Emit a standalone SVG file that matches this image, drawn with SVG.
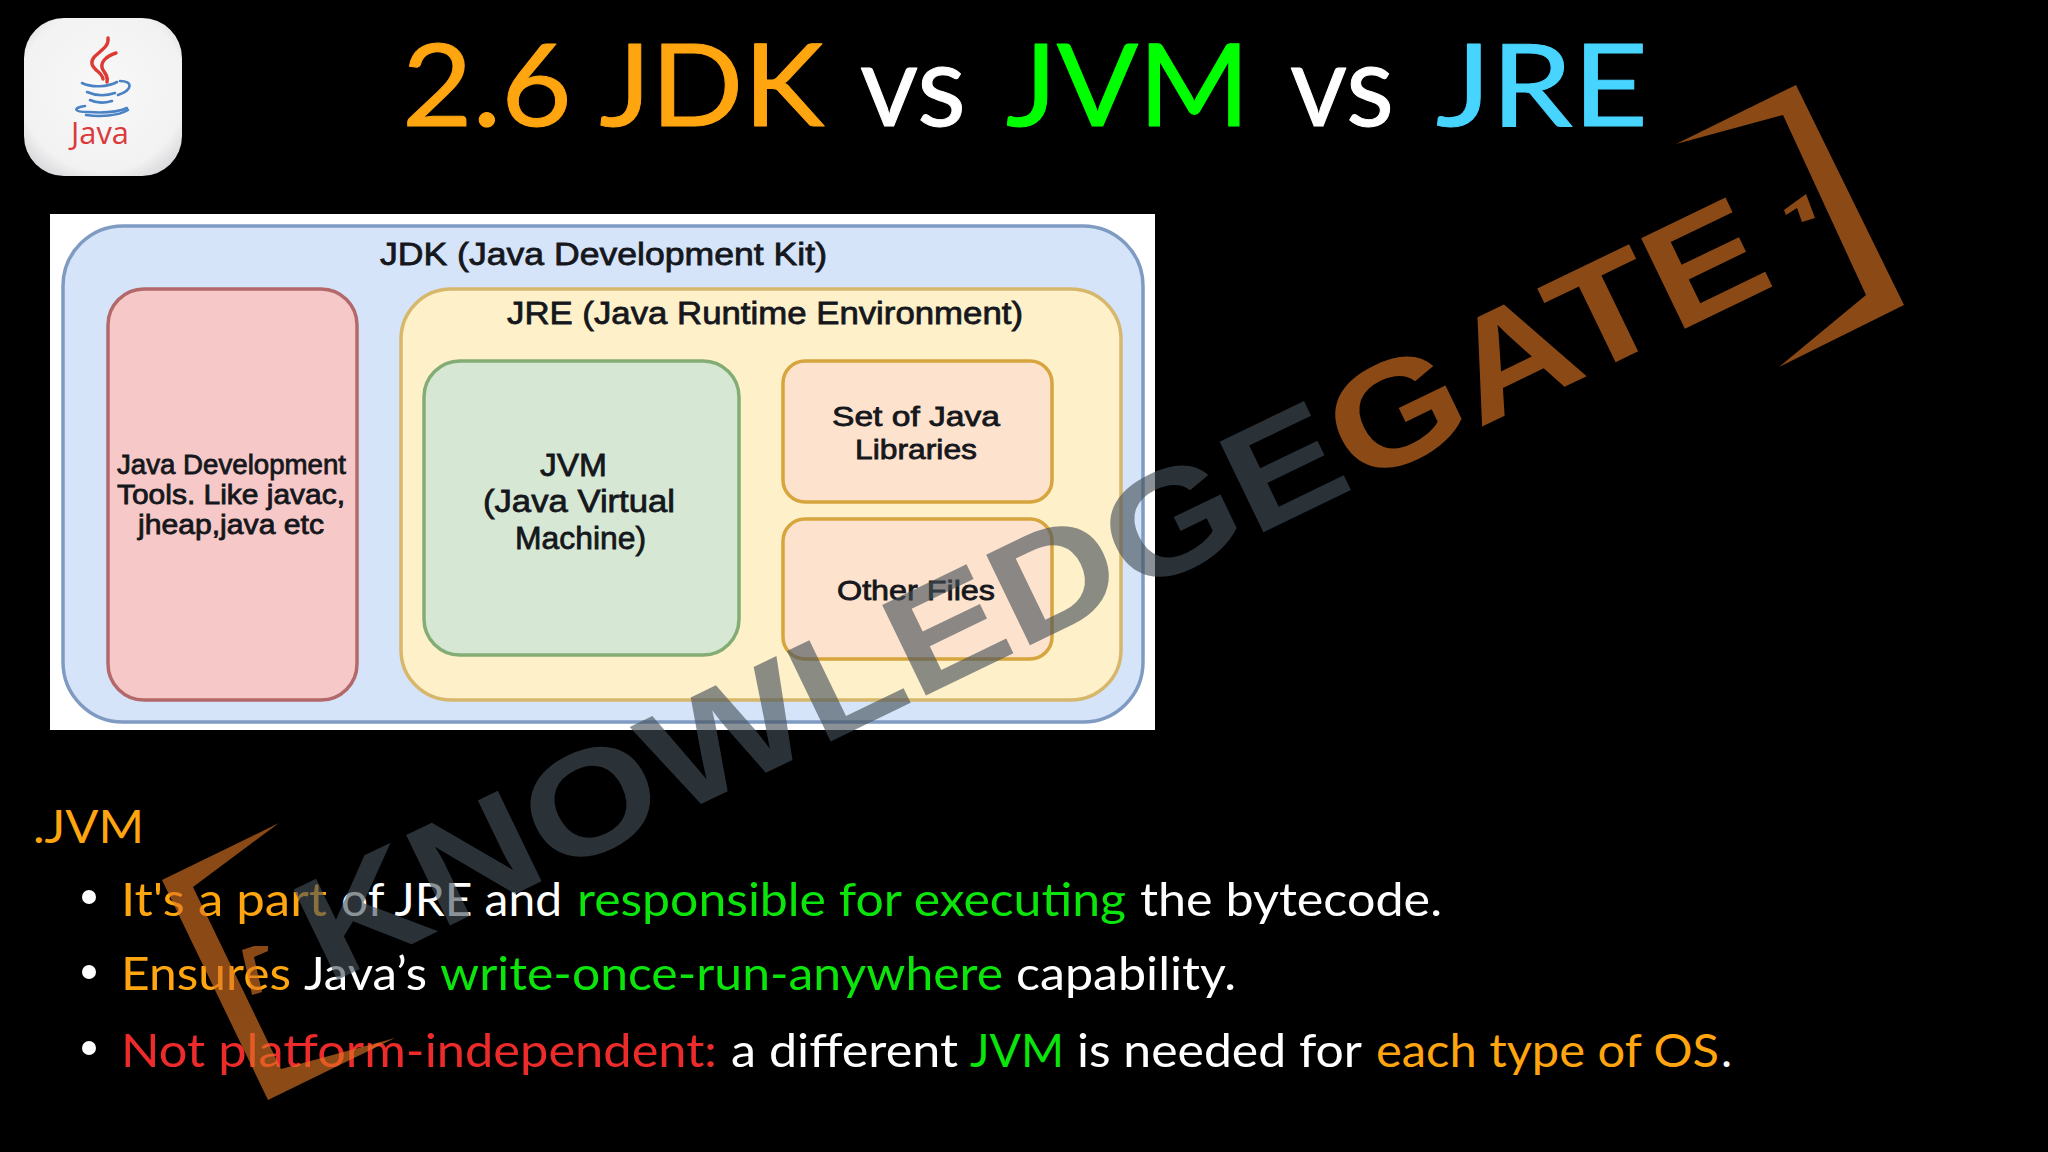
<svg xmlns="http://www.w3.org/2000/svg" width="2048" height="1152" viewBox="0 0 2048 1152">
<style>
.t{font-family:"Lato","Open Sans",sans-serif;font-size:114px;font-weight:400;stroke-linejoin:round;stroke-width:1}
.d{font-family:"Liberation Sans",Arial,sans-serif;fill:#15171c;stroke:#15171c;stroke-width:.8;font-size:28px}
.d2{font-size:32px}
.d3{font-size:27px}
.b{font-family:"Lato","Open Sans",sans-serif;font-size:47px}
.o{fill:#ffa50f}.g{fill:#0be50b}.w{fill:#fff}.r{fill:#ee2b2b}
.n{stroke-width:3.5;filter:url(#soft)}
.wm{font-family:"Liberation Sans",Arial,sans-serif;font-weight:700;font-size:146px}
.br{fill:#e07723}
</style>
<defs>
<radialGradient id="ic" cx=".5" cy=".45" r=".72"><stop offset="0" stop-color="#f8f8f9"/><stop offset=".72" stop-color="#f2f2f3"/><stop offset="1" stop-color="#c9c9cc"/></radialGradient>
<filter id="soft" x="-2%" y="-2%" width="104%" height="104%"><feGaussianBlur stdDeviation=".6"/></filter>
</defs>
<rect width="2048" height="1152" fill="#000"/>
<g id="java-logo">
<rect x="24" y="18" width="158" height="158" rx="40" fill="url(#ic)"/>
<g fill="none" stroke="#dc3a32" stroke-width="3.4" stroke-linecap="round">
<path d="M108 38C110 50 90 54 92 64C94 71 102 72 103 79"/>
<path d="M116 53C106 56 99 63 103 70C106 74 108 77 107 82"/>
</g>
<g fill="none" stroke="#4a82c4" stroke-width="2.6" stroke-linecap="round">
<path d="M82 83C92 88 108 87 117 82"/>
<path d="M87 92C96 96 106 96 115 93"/>
<path d="M90 100C96 103 105 103 112 101"/>
<path d="M120 81C133 81 133 90 118 95"/>
<path d="M85 106C72 108 74 112 88 112C102 113 118 112 127 108"/>
<path d="M86 115C100 117 118 116 128 110"/>
</g>
<text x="71" y="144" textLength="58" lengthAdjust="spacingAndGlyphs" font-family="Open Sans, sans-serif" font-size="31" fill="#dc3a3a">Java</text>
</g>
<g id="title">
<text class="t" x="402" y="126" textLength="422" lengthAdjust="spacingAndGlyphs" fill="#ffa50f" stroke="#ffa50f">2.6 JDK</text>
<text class="t" x="860" y="126" textLength="106" lengthAdjust="spacingAndGlyphs" fill="#fff" stroke="#fff">vs</text>
<text class="t" x="1006" y="126" textLength="244" lengthAdjust="spacingAndGlyphs" fill="#0f0" stroke="#0f0">JVM</text>
<text class="t" x="1290" y="126" textLength="104" lengthAdjust="spacingAndGlyphs" fill="#fff" stroke="#fff">vs</text>
<text class="t" x="1436" y="126" textLength="212" lengthAdjust="spacingAndGlyphs" fill="#47d4ff" stroke="#47d4ff">JRE</text>
</g>
<rect id="diagram-bg" x="50" y="214" width="1105" height="516" fill="#fff"/>
<g id="jdk">
<rect class="n" x="63" y="226" width="1080" height="496" rx="60" fill="#d5e4f9" stroke="#7f9bc2"/>
<text class="d d2" x="380" y="265" textLength="447" lengthAdjust="spacingAndGlyphs">JDK (Java Development Kit)</text>
</g>
<g id="dev-tools">
<rect class="n" x="108" y="289" width="249" height="411" rx="36" fill="#f6c9c8" stroke="#b3696b"/>
<text class="d d3" x="117" y="474" textLength="229" lengthAdjust="spacingAndGlyphs">Java Development</text>
<text class="d d3" x="117" y="504" textLength="228" lengthAdjust="spacingAndGlyphs">Tools. Like javac,</text>
<text class="d d3" x="138" y="534" textLength="186" lengthAdjust="spacingAndGlyphs">jheap,java etc</text>
</g>
<g id="jre">
<rect class="n" x="401" y="289" width="720" height="411" rx="50" fill="#fef0c9" stroke="#d6b76c"/>
<text class="d d2" x="507" y="324" textLength="516" lengthAdjust="spacingAndGlyphs">JRE (Java Runtime Environment)</text>
</g>
<g id="jvm">
<rect class="n" x="424" y="361" width="315" height="294" rx="36" fill="#d6e8d4" stroke="#84ad76"/>
<text class="d d2" x="540" y="476" textLength="67" lengthAdjust="spacingAndGlyphs">JVM</text>
<text class="d d2" x="483" y="512" textLength="192" lengthAdjust="spacingAndGlyphs">(Java Virtual</text>
<text class="d d2" x="515" y="549" textLength="131" lengthAdjust="spacingAndGlyphs">Machine)</text>
</g>
<g id="libraries">
<rect class="n" x="783" y="361" width="269" height="141" rx="22" fill="#fde3cd" stroke="#d6a53c"/>
<text class="d" x="832" y="426" textLength="168" lengthAdjust="spacingAndGlyphs">Set of Java</text>
<text class="d" x="855" y="459" textLength="122" lengthAdjust="spacingAndGlyphs">Libraries</text>
</g>
<g id="other-files">
<rect class="n" x="783" y="519" width="269" height="140" rx="22" fill="#fde3cd" stroke="#d6a53c"/>
<text class="d" x="837" y="600" textLength="158" lengthAdjust="spacingAndGlyphs">Other Files</text>
</g>
<g id="notes">
<text class="b o" x="33" y="843" textLength="111" lengthAdjust="spacingAndGlyphs">.JVM</text>
<circle class="w" cx="89" cy="897" r="7"/><circle class="w" cx="89" cy="972" r="7"/><circle class="w" cx="89" cy="1048" r="7"/>
<text class="b o" x="121" y="916" textLength="206" lengthAdjust="spacingAndGlyphs">It's a part</text>
<text class="b w" x="341" y="916" textLength="221" lengthAdjust="spacingAndGlyphs">of JRE and</text>
<text class="b g" x="577" y="916" textLength="549" lengthAdjust="spacingAndGlyphs">responsible for executing</text>
<text class="b w" x="1140" y="916" textLength="302" lengthAdjust="spacingAndGlyphs">the bytecode.</text>
<text class="b o" x="121" y="990" textLength="170" lengthAdjust="spacingAndGlyphs">Ensures</text>
<text class="b w" x="304" y="990" textLength="123" lengthAdjust="spacingAndGlyphs">Java’s</text>
<text class="b g" x="440" y="990" textLength="563" lengthAdjust="spacingAndGlyphs">write-once-run-anywhere</text>
<text class="b w" x="1016" y="990" textLength="220" lengthAdjust="spacingAndGlyphs">capability.</text>
<text class="b r" x="121" y="1067" textLength="596" lengthAdjust="spacingAndGlyphs">Not platform-independent:</text>
<text class="b w" x="731" y="1067" textLength="227" lengthAdjust="spacingAndGlyphs">a different</text>
<text class="b g" x="970" y="1067" textLength="94" lengthAdjust="spacingAndGlyphs">JVM</text>
<text class="b w" x="1077" y="1067" textLength="285" lengthAdjust="spacingAndGlyphs">is needed for</text>
<text class="b o" x="1376" y="1067" textLength="343" lengthAdjust="spacingAndGlyphs">each type of OS</text>
<text class="b w" x="1721" y="1067">.</text>
</g>
<g id="watermark" opacity=".62">
<text class="wm" transform="translate(327 985) rotate(-25.8)" textLength="1612" lengthAdjust="spacingAndGlyphs"><tspan fill="#44505a">KNOWLEDGE</tspan><tspan class="br">GATE</tspan></text>
<polygon class="br" points="1796,85 1904,305 1779,367 1866,295 1783,115 1676,144"/>
<polygon class="br" points="1784,210 1806,194 1815,218 1802,222 1797,208 1786,215"/>
<polygon class="br" points="279,823 162,880 268,1100 395,1038 281,1069 193,887"/>
<polygon class="br" points="242,950 254,946 268,946 268,951 254,957 262,992 252,995"/>
</g>
</svg>
